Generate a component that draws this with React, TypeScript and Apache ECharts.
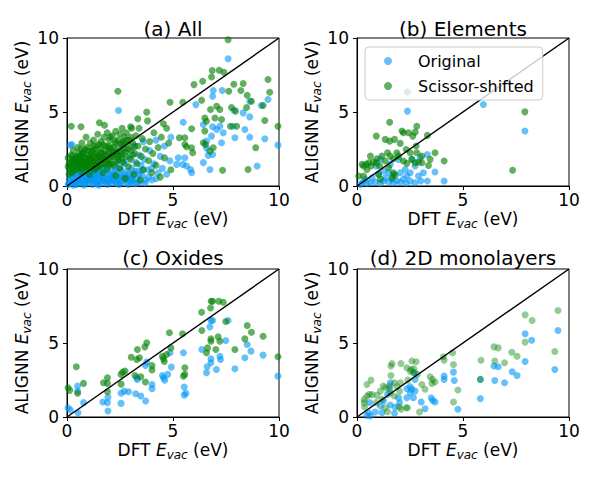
import React, { useEffect, useRef } from "react";
import * as echarts from "echarts";

const FONT = "DejaVu Sans";

const panelTitles = ["(a) All", "(b) Elements", "(c) Oxides", "(d) 2D monolayers"];
const legendNames = ["Original", "Scissor-shifted"];
const axisMin = 0;
const axisMax = 10;
const tickStep = 5;
const diagonal = [[0, 0], [10, 10]];

// (a) All
const allOriginal = [
  [0.05,0.1],[0.1,0.4],[0.15,0.9],[0.16,2.76],[0.2,0.2],[0.23,2.8],[0.25,0.6],[0.3,1.3],[0.35,0.3],[0.4,0.8],
  [0.45,0.1],[0.5,1.6],[0.55,0.5],[0.6,0.2],[0.65,1.0],[0.7,0.4],[0.75,2.2],[0.8,0.7],[0.85,0.15],[0.9,1.3],
  [0.95,0.5],[1.0,0.9],[1.05,0.25],[1.1,1.7],[1.15,0.6],[1.2,0.1],[1.25,1.1],[1.3,0.4],[1.35,0.8],[1.4,0.15],
  [1.45,1.4],[1.5,0.5],[1.55,0.9],[1.6,0.2],[1.65,1.9],[1.7,0.6],[1.75,1.2],[1.8,0.3],[1.85,0.8],[1.9,0.1],
  [1.95,1.5],[2.0,0.5],[2.05,1.0],[2.1,0.2],[2.15,2.1],[2.2,0.7],[2.25,1.3],[2.3,0.3],[2.35,0.9],[2.4,1.7],
  [2.45,0.1],[2.5,0.6],[2.55,1.1],[2.6,0.3],[2.65,2.4],[2.7,0.8],[2.75,1.5],[2.8,0.2],[2.85,1.0],[2.9,0.5],
  [2.95,1.9],[3.0,0.3],[3.05,1.2],[3.1,0.7],[3.15,2.6],[3.2,0.15],[3.25,1.6],[3.3,0.5],[3.35,1.0],[3.4,2.1],
  [3.45,0.25],[3.5,1.4],[3.55,0.7],[3.6,3.0],[3.65,1.8],[3.7,0.4],[3.8,1.1],[3.9,2.4],[4.0,0.4],[4.1,1.5],
  [4.2,3.1],[4.3,0.9],[4.4,2.0],[4.5,1.2],[4.6,2.7],[4.7,0.8],[4.85,1.7],[4.9,3.3],[2.43,5.1],[0.3,0.05],
  [0.5,0.35],[0.9,0.3],[1.1,0.45],[1.3,0.6],[1.6,0.7],[1.9,0.4],[2.2,0.45],[2.5,0.25],[2.7,0.5],[2.9,0.1],
  [3.1,0.35],[0.4,0.2],[0.8,0.05],[1.5,0.05],[2.1,0.6],[1.2,0.7],[0.6,0.65],[1.7,0.35],[2.35,0.15],
  [0.1,0.15],[0.2,0.5],[0.3,0.8],[0.35,1.0],[0.45,0.6],[0.55,0.2],[0.6,1.2],[0.7,0.8],[0.75,0.3],[0.85,0.6],
  [0.95,1.1],[1.0,0.4],[1.1,0.9],[1.2,0.35],[1.3,1.0],[1.35,0.2],[1.45,0.7],[1.55,0.35],[1.6,1.1],[1.75,0.5],
  [1.85,1.1],[1.95,0.25],[2.0,0.8],[2.15,0.35],[2.25,1.0],[2.4,0.5],[2.45,1.2],[2.6,0.7],[2.65,1.6],[2.8,0.6],
  [2.95,0.8],[3.05,0.5],[3.2,1.0],[3.3,0.2],[3.4,0.75],[3.55,1.1],[3.7,0.2],[3.85,0.6],[4.0,1.2],[4.2,0.5],
  [7.6,8.6],[6.9,6.45],[6.87,6.07],[7.32,6.45],[6.08,5.5],[9.48,5.84],[8.62,5.73],[9.17,5.44],[7.87,5.12],[8.31,4.94],
  [8.62,4.67],[5.48,4.31],[6.43,4.16],[6.87,4.0],[7.06,3.82],[7.21,4.04],[7.37,3.6],[7.82,4.04],[8.39,3.82],[7.92,3.26],
  [8.62,3.3],[9.33,3.19],[9.95,2.76],[6.82,3.37],[6.58,3.03],[6.58,2.56],[6.66,2.07],[6.87,2.13],[7.29,2.92],[6.43,1.58],
  [6.74,1.12],[8.97,1.35],[5.25,1.91],[5.56,1.91],[5.17,1.46],[5.46,1.46],[5.64,1.35],[5.83,1.12],[5.88,0.9]
];
const allShifted = [
  [0.05,1.9],[0.1,1.5],[0.15,1.2],[0.2,2.1],[0.25,1.7],[0.3,1.0],[0.3,2.4],[0.35,1.4],[0.4,1.9],[0.45,1.1],
  [0.5,2.6],[0.5,1.6],[0.55,2.2],[0.6,1.3],[0.65,1.8],[0.7,2.9],[0.7,0.9],[0.75,1.5],[0.8,2.3],[0.85,1.9],
  [0.9,1.2],[0.9,3.3],[0.95,2.6],[1.0,1.6],[1.0,2.1],[1.05,0.8],[1.1,2.9],[1.15,1.4],[1.2,2.4],[1.2,1.9],
  [1.25,3.1],[1.3,1.1],[1.35,2.2],[1.4,1.7],[1.4,2.7],[1.45,3.5],[1.5,2.0],[1.5,1.3],[1.55,2.5],[1.6,3.0],
  [1.6,1.8],[1.65,2.2],[1.7,0.9],[1.7,2.8],[1.75,3.3],[1.8,1.5],[1.8,2.4],[1.85,2.0],[1.9,3.6],[1.9,1.2],
  [1.95,2.7],[2.0,2.2],[2.0,3.1],[2.05,1.7],[2.1,2.5],[2.15,3.4],[2.2,1.4],[2.2,2.0],[2.25,2.9],[2.3,3.7],
  [2.3,0.7],[2.35,2.3],[2.4,3.1],[2.4,1.8],[2.45,2.6],[2.5,3.5],[2.5,1.2],[2.55,2.1],[2.6,2.9],[2.6,3.9],
  [2.65,1.6],[2.7,2.5],[2.7,3.3],[2.75,0.5],[2.8,2.0],[2.8,3.6],[2.85,2.8],[2.9,1.3],[2.95,3.1],[3.0,2.4],
  [3.0,1.8],[3.05,3.9],[3.1,2.9],[3.15,0.8],[3.2,2.2],[3.25,3.4],[3.3,1.5],[3.35,2.7],[3.4,3.9],[3.45,0.4],
  [3.5,2.0],[3.55,3.2],[3.6,1.1],[3.7,2.5],[3.8,4.4],[3.85,1.7],[3.9,3.0],[4.0,0.9],[4.05,2.2],[4.1,3.6],
  [4.2,1.4],[4.3,2.6],[4.4,0.6],[4.45,3.3],[4.55,4.2],[4.6,1.9],[4.7,3.9],[4.8,2.9],[4.9,1.1],[0.2,4.04],
  [0.66,4.0],[1.53,4.27],[1.77,4.1],[2.4,6.4],[3.34,4.54],[3.76,4.99],[4.86,5.66],[3.0,4.0],
  [0.1,0.8],[0.2,1.3],[0.35,1.8],[0.45,2.0],[0.55,1.4],[0.6,2.0],[0.8,1.6],[0.85,1.3],[0.95,1.8],[1.05,1.9],
  [1.1,1.5],[1.25,1.6],[1.3,2.0],[1.45,1.6],[1.55,1.9],[1.65,1.5],[1.75,2.1],[1.9,1.8],[2.1,2.0],[2.3,2.2],
  [2.5,2.3],[0.65,1.6],[0.75,2.0],[1.15,2.3],[1.35,1.4],[2.0,2.6],[2.2,2.6],[2.65,3.0],
  [0.15,1.6],[0.25,2.0],[0.4,1.5],[0.5,1.2],[0.6,1.7],[0.7,2.2],[0.75,1.2],[0.85,2.5],[0.9,1.6],[1.0,1.3],
  [1.1,2.0],[1.2,1.2],[1.3,1.7],[1.3,2.5],[1.45,2.1],[1.5,2.8],[1.6,1.4],[1.7,1.9],[1.8,2.7],[1.85,1.6],
  [1.95,2.3],[2.05,3.3],[2.1,1.5],[2.2,2.3],[2.3,3.0],[2.35,1.6],[2.45,2.0],[2.55,2.8],[2.6,1.9],[2.75,2.3],
  [2.8,3.1],[2.9,2.5],[3.0,3.3],[3.1,2.1],[3.2,2.7],[0.05,1.3],[0.2,0.9],[0.3,1.6],[0.55,1.9],[1.0,2.4],
  [1.4,1.2],[2.0,1.4],[0.65,2.5],[1.15,1.7],[1.6,2.3],[1.25,2.7],
  [7.6,9.88],[6.85,7.8],[6.82,7.37],[7.18,7.82],[7.4,7.68],[6.4,7.08],[5.99,6.85],[8.2,6.45],[8.31,6.92],[9.48,7.19],
  [7.63,6.4],[6.35,5.8],[8.5,6.13],[8.7,5.73],[9.56,6.34],[9.25,5.44],[6.77,5.17],[7.21,5.17],[7.06,5.39],[7.76,5.3],
  [8.47,5.3],[7.95,5.06],[6.5,4.6],[6.58,4.38],[6.98,4.6],[7.29,4.49],[7.71,4.04],[8.0,4.04],[8.9,2.59],[9.95,4.04],
  [9.33,4.43],[5.88,3.87],[6.5,3.71],[6.43,2.92],[6.53,2.81],[6.9,2.59],[6.74,2.36],[7.34,1.06],[8.54,1.12],[5.3,3.26],
  [5.56,3.26],[5.56,2.81],[5.64,2.65],[5.88,2.59],[5.93,2.25],[5.46,5.66],[7.87,6.88]
];

// (b) Elements
const elemOriginal = [
  [5.96,5.51],[2.38,5.06],[7.92,3.71],[4.11,0.34],[3.68,0.94],[3.32,2.13],[3.32,0.34],[3.01,0.34],[2.74,0.22],[2.51,0.34],
  [2.32,0.18],[2.04,0.27],[1.88,0.34],[1.72,0.22],[1.49,0.27],[1.25,0.34],[1.1,0.18],[0.86,0.27],[0.63,0.22],[0.47,0.18],
  [0.28,0.27],[0.16,0.11],[0.39,0.45],[0.71,0.56],[1.02,0.79],[1.25,1.01],[1.49,0.9],[1.72,0.79],[2.04,0.9],[2.27,1.12],
  [2.51,0.9],[2.74,1.35],[2.9,0.67],[1.1,1.8],[1.57,1.46],[1.96,1.8],[2.59,1.8],[0.91,1.35],[2.98,1.91],[2.19,0.45],
  [2.35,0.67],[3.13,0.9],[1.33,0.56],[1.65,0.45]
];
const elemShifted = [
  [2.38,6.36],[7.92,5.01],[7.34,1.06],[1.54,4.31],[2.82,4.04],[0.91,3.37],[1.33,3.15],[1.54,3.03],[1.77,3.15],[2.04,2.88],
  [2.12,3.71],[2.19,3.6],[2.43,3.6],[2.63,3.37],[2.74,3.64],[3.32,3.42],[2.79,2.7],[2.32,2.47],[2.51,2.25],[2.59,1.8],
  [2.74,1.57],[2.9,1.62],[3.06,1.57],[3.45,1.8],[3.37,1.39],[3.68,2.25],[4.11,1.69],[0.08,0.67],[0.24,1.46],[0.31,1.35],
  [0.44,1.46],[0.55,1.57],[0.66,1.35],[0.78,1.62],[0.94,1.84],[1.07,1.35],[1.18,2.02],[1.33,1.69],[1.44,2.25],[1.57,2.02],
  [1.72,1.84],[1.88,2.25],[1.96,2.02],[1.72,0.9],[1.8,0.72],[1.65,0.56],[1.49,1.24],[2.19,1.69],[2.35,1.53],[0.63,2.02],
  [0.47,1.12],[1.02,0.79],[1.1,0.45],[0.91,1.57],[0.31,0.67],[3.06,2.02],[2.82,2.25]
];

// (c) Oxides
const oxOriginal = [
  [0.05,0.63],[0.16,0.47],[0.5,1.75],[0.5,2.09],[0.78,0.97],[0.52,0.29],[1.69,1.01],[1.91,0.97],[1.93,1.33],[1.93,0.4],
  [2.55,0.92],[2.55,1.6],[2.7,1.75],[2.9,1.71],[3.24,1.57],[3.29,2.65],[3.32,2.54],[3.48,1.42],[3.71,1.08],[3.7,3.48],
  [3.76,3.71],[4.01,2.2],[4.01,1.91],[4.5,2.81],[4.55,2.65],[4.61,2.49],[4.75,2.88],[4.86,4.34],[4.92,3.37],[5.49,4.34],
  [5.53,2.02],[5.53,1.48],[5.61,1.6],[6.36,4.56],[6.79,6.52],[6.87,6.52],[6.74,6.09],[6.79,3.93],[6.79,3.66],[6.61,3.39],
  [6.58,2.99],[7.05,3.21],[7.21,4.11],[7.24,3.89],[7.6,6.52],[7.49,5.17],[7.92,3.26],[8.5,4.9],[8.68,4.45],[8.39,4.0],
  [9.25,4.18],[9.95,2.76]
];
const oxShifted = [
  [0.05,1.98],[0.13,1.8],[0.44,3.39],[0.78,2.27],[0.5,1.6],[1.72,2.31],[1.91,2.65],[1.91,2.27],[1.91,1.71],[2.55,2.88],
  [2.63,3.03],[2.74,3.1],[2.55,2.22],[3.03,4.04],[3.32,4.56],[3.42,4.0],[3.29,3.89],[3.21,2.81],[3.48,2.72],[3.67,4.74],
  [3.76,5.01],[3.7,2.36],[4.01,3.48],[4.01,3.17],[4.5,4.11],[4.55,3.93],[4.59,3.75],[4.83,5.69],[4.9,4.67],[4.7,4.22],
  [5.45,5.62],[5.56,3.33],[5.56,2.88],[5.49,2.76],[6.35,7.08],[6.77,7.37],[6.8,7.82],[6.87,7.82],[7.16,7.82],[7.37,7.75],
  [6.36,5.84],[6.79,5.28],[6.79,5.12],[6.63,4.67],[6.58,4.34],[7.02,4.56],[7.13,5.42],[7.21,5.12],[7.49,6.45],[7.92,4.56],
  [8.5,6.18],[8.7,5.73],[8.39,5.28],[9.25,5.46],[9.95,4.07]
];

// (d) 2D monolayers
const monoOriginal = [
  [9.48,5.84],[7.93,5.62],[8.24,5.19],[7.93,3.75],[9.33,3.21],[7.32,3.06],[7.55,2.81],[6.96,2.31],[6.46,3.44],[6.66,3.39],
  [6.5,2.47],[5.82,2.54],[5.82,1.24],[4.55,3.03],[4.59,2.47],[4.11,2.76],[4.11,2.54],[4.76,0.52],[3.5,1.3],[3.57,1.12],
  [3.68,1.01],[3.03,1.01],[3.21,0.56],[2.71,2.99],[2.35,1.91],[2.51,2.04],[2.59,1.87],[2.74,1.75],[2.51,1.64],[2.66,1.3],
  [2.35,1.3],[2.74,2.54],[1.57,2.31],[1.54,1.91],[1.44,1.53],[1.57,0.81],[1.8,0.67],[1.77,0.25],[2.01,0.97],[1.1,0.74],
  [1.18,0.29],[0.86,0.34],[0.6,0.97],[0.55,0.29],[0.47,0.11],[0.63,0.07],[1.25,1.08],[1.96,1.3]
];
const monoShifted = [
  [9.48,7.19],[7.93,6.9],[8.26,6.52],[7.93,5.06],[9.33,4.43],[6.46,4.74],[6.66,4.67],[7.3,4.38],[7.55,4.11],[6.96,3.66],
  [6.5,3.78],[5.85,3.84],[5.82,2.54],[4.51,4.34],[4.08,4.07],[4.11,3.84],[4.55,3.55],[4.76,1.82],[4.55,1.01],[3.45,2.72],
  [3.57,2.54],[3.68,2.36],[3.53,2.27],[3.06,2.2],[3.21,1.87],[2.95,0.34],[2.59,3.78],[2.79,3.73],[2.35,3.33],[2.55,3.21],
  [2.68,3.26],[2.66,2.99],[2.85,2.88],[2.4,2.49],[2.51,3.1],[2.07,3.62],[2.05,2.31],[2.01,1.75],[1.99,0.67],[2.38,0.63],
  [1.65,3.62],[1.6,3.44],[1.6,2.81],[1.54,2.09],[1.57,1.64],[1.35,1.98],[1.24,2.09],[1.1,1.75],[0.94,1.46],[0.71,1.51],
  [0.58,1.53],[0.47,1.42],[0.34,1.19],[0.34,0.97],[0.36,0.67],[0.66,2.49],[0.47,2.2],[0.91,0.97],[1.18,1.19],[1.33,0.63],
  [1.44,0.36],[1.77,2.31],[1.88,2.04],[2.08,0.52],[1.76,1.42],[2.32,0.63]
];

const panelOriginal = [allOriginal, elemOriginal, oxOriginal, monoOriginal];
const panelShifted = [allShifted, elemShifted, oxShifted, monoShifted];

export default function App() {
  const ref = useRef<HTMLDivElement>(null);
  useEffect(() => {
    document.body.style.margin = "0";
    if (!ref.current) return;
    const chart = echarts.init(ref.current, null, { renderer: "svg" });

    const grids = [
      { left: 67, top: 38, width: 212, height: 148 },
      { left: 357, top: 38, width: 212, height: 148 },
      { left: 67, top: 269, width: 212, height: 148 },
      { left: 357, top: 269, width: 212, height: 148 },
    ];
    const titleY = [29, 29, 258, 258];

    const rich = {
      n: { fontSize: 17, fontFamily: FONT, color: "#000", lineHeight: 22, verticalAlign: "middle" },
      e: { fontSize: 17, fontFamily: FONT, color: "#000", fontStyle: "italic", lineHeight: 22, verticalAlign: "middle" },
      s: { fontSize: 12, fontFamily: FONT, color: "#000", fontStyle: "italic", lineHeight: 11, verticalAlign: "bottom" },
    };
    const xName = "{n|DFT }{e|E}{s|vac}{n| (eV)}";
    const yName = "{n|ALIGNN }{e|E}{s|vac}{n| (eV)}";

    const axisCommon = {
      type: "value",
      min: axisMin,
      max: axisMax,
      interval: tickStep,
      axisLine: { show: true, onZero: false, lineStyle: { color: "#000", width: 1 } },
      axisTick: { show: true, length: 4, lineStyle: { color: "#000", width: 1 } },
      splitLine: { show: false },
      axisLabel: { fontSize: 17, fontFamily: FONT, color: "#000" },
      nameLocation: "middle",
      nameTextStyle: { rich },
    };

    const xAxis = grids.map((_, i) => ({
      ...axisCommon,
      gridIndex: i,
      name: xName,
      nameGap: 22,
      axisLabel: { ...axisCommon.axisLabel, margin: 5 },
    }));
    const yAxis = grids.map((_, i) => ({
      ...axisCommon,
      gridIndex: i,
      name: yName,
      nameGap: 24,
      nameRotate: 90,
      axisLabel: { ...axisCommon.axisLabel, margin: 8 },
    }));

    const series: any[] = [];
    grids.forEach((_, i) => {
      series.push({
        type: "scatter",
        name: legendNames[0],
        xAxisIndex: i,
        yAxisIndex: i,
        data: panelOriginal[i],
        symbolSize: 7,
        itemStyle: { color: "rgb(0,150,245)", opacity: 0.6 },
        z: 2,
      });
      series.push({
        type: "scatter",
        name: legendNames[1],
        xAxisIndex: i,
        yAxisIndex: i,
        data: panelShifted[i],
        symbolSize: 7,
        itemStyle: { color: "rgb(0,128,0)", opacity: i === 3 ? 0.42 : 0.62 },
        z: 2,
      });
      series.push({
        type: "line",
        xAxisIndex: i,
        yAxisIndex: i,
        data: diagonal,
        symbol: "none",
        lineStyle: { color: "#000", width: 1.5 },
        z: 3,
        silent: true,
      });
    });

    chart.setOption({
      animation: false,
      backgroundColor: "#fff",
      grid: grids.map((g) => ({ ...g, show: true, borderColor: "#000", borderWidth: 1, backgroundColor: "transparent" })),
      xAxis,
      yAxis,
      legend: {
        data: legendNames,
        orient: "vertical",
        left: 365,
        top: 47,
        icon: "circle",
        itemWidth: 8,
        itemHeight: 8,
        itemGap: 7,
        padding: [5, 9, 5, 19],
        backgroundColor: "rgba(255,255,255,0.8)",
        borderColor: "#ccc",
        borderWidth: 1,
        borderRadius: 4,
        selectedMode: false,
        textStyle: { fontSize: 16, fontFamily: FONT, color: "#000", lineHeight: 18, padding: [0, 0, 0, 21] },
        z: 10,
      },
      graphic: grids.map((g, i) => ({
        type: "text",
        x: g.left + g.width / 2,
        y: titleY[i],
        style: {
          text: panelTitles[i],
          fontSize: 20,
          fontFamily: FONT,
          fill: "#000",
          align: "center",
          verticalAlign: "middle",
        },
      })),
      series,
    });
    return () => chart.dispose();
  }, []);
  return <div ref={ref} style={{ width: 598, height: 479 }} />;
}
